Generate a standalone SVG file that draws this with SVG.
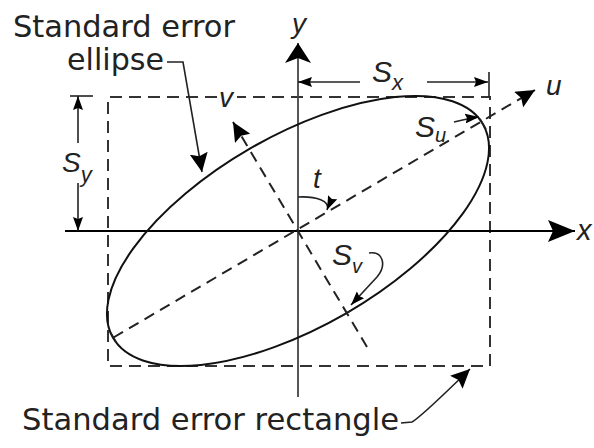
<svg xmlns="http://www.w3.org/2000/svg" width="594" height="448" viewBox="0 0 594 448">
<style>
.lbl{font-family:"DejaVu Sans","Liberation Sans",sans-serif;font-size:30px;fill:#222}
.m{font-family:"Liberation Sans","DejaVu Sans",sans-serif;font-style:italic;fill:#222}
.dash{fill:none;stroke:#333;stroke-width:2;stroke-dasharray:12 7}
.dl{fill:none;stroke:#222;stroke-width:2;stroke-dasharray:11 7}
.ln{fill:none;stroke:#111;stroke-width:2}
.thin{fill:none;stroke:#222;stroke-width:1.6}
</style>
<defs>
<marker id="big" viewBox="0 0 27 22" refX="27" refY="11" markerWidth="27" markerHeight="22" markerUnits="userSpaceOnUse" orient="auto"><path d="M0,0 L27,11 L0,22 L5,11 Z" fill="#000"/></marker>
<marker id="yah" viewBox="0 0 20 26" refX="20" refY="13" markerWidth="20" markerHeight="26" markerUnits="userSpaceOnUse" orient="auto"><path d="M0,0 L20,13 L0,26 L5,13 Z" fill="#000"/></marker>
<marker id="mid" viewBox="0 0 19 18" refX="19" refY="9" markerWidth="19" markerHeight="18" markerUnits="userSpaceOnUse" orient="auto"><path d="M0,0 L19,9 L0,18 L3,9 Z" fill="#000"/></marker>
<marker id="sm" viewBox="0 0 14 10" refX="14" refY="5" markerWidth="14" markerHeight="10" markerUnits="userSpaceOnUse" orient="auto"><path d="M0,0 L14,5 L0,10 L2,5 Z" fill="#000"/></marker>
</defs>

<g id="rectangle">
<path class="dash" d="M217,97 L108,97 L108,366 L490,366 L490,97 L237,97"/>
</g>

<g id="axes">
<line x1="298" y1="397" x2="298" y2="43" stroke="#444" stroke-width="1.8" marker-end="url(#yah)"/>
<line x1="65" y1="231" x2="575" y2="231" stroke="#000" stroke-width="2" marker-end="url(#big)"/>
<text class="m" x="292" y="33" font-size="28">y</text>
<text class="m" x="577" y="240" font-size="29">x</text>
</g>

<g id="ellipse">
<ellipse cx="298" cy="231" rx="213.6" ry="95.4" transform="rotate(-30 298 231)" class="ln"/>
</g>

<g id="connectors">
<line class="dl" x1="113.5" y1="337.5" x2="535" y2="90" marker-end="url(#mid)"/>
<line class="dl" x1="367" y1="347" x2="233" y2="122" marker-end="url(#mid)"/>
<line class="thin" x1="110.5" y1="332.3" x2="116.5" y2="342.7"/>
<line class="thin" x1="480" y1="118.8" x2="486" y2="129.2"/>
<line class="thin" x1="340.5" y1="316.6" x2="350.9" y2="310.6"/>
<path class="thin" d="M298,197 C316,196 331,201 327,210" marker-end="url(#sm)"/>
<path class="thin" d="M369,253 C383,251 387,265 377,277 L351,305" marker-end="url(#sm)"/>
<path class="thin" d="M454,122 C462,120 470,118 479,117" marker-end="url(#sm)"/>
<path class="thin" d="M167,62 L183,62 L202,172" marker-end="url(#mid)"/>
<path class="thin" d="M401,423 L412,422 C422,416 442,396 470,369" marker-end="url(#mid)"/>
<line class="thin" x1="360" y1="82" x2="298" y2="82" marker-end="url(#sm)"/>
<line class="thin" x1="427" y1="82" x2="488" y2="82" marker-end="url(#sm)"/>
<line class="thin" x1="489" y1="72" x2="489" y2="97"/>
<line class="thin" x1="70" y1="96" x2="93" y2="96"/>
<line class="thin" x1="78" y1="143" x2="78" y2="96" marker-end="url(#sm)"/>
<line class="thin" x1="78" y1="183" x2="78" y2="231" marker-end="url(#sm)"/>
</g>

<g id="labels">
<text class="m" x="546" y="95" font-size="28">u</text>
<text class="m" x="219" y="107" font-size="28">v</text>
<text class="m" x="313" y="188" font-size="28">t</text>
<text class="m" x="372" y="82" font-size="30">S<tspan font-size="22" dy="8">x</tspan></text>
<text class="m" x="62" y="172" font-size="28">S<tspan font-size="22" dy="10">y</tspan></text>
<text class="m" x="415" y="137" font-size="30">S<tspan font-size="20" dy="5">u</tspan></text>
<text class="m" x="332" y="265" font-size="30">S<tspan font-size="20" dy="8">v</tspan></text>
</g>

<g id="titles">
<text class="lbl" x="13" y="37" textLength="222" lengthAdjust="spacingAndGlyphs">Standard error</text>
<text class="lbl" x="67" y="70" textLength="97" lengthAdjust="spacingAndGlyphs">ellipse</text>
<text class="lbl" x="22" y="430" textLength="377" lengthAdjust="spacingAndGlyphs">Standard error rectangle</text>
</g>
</svg>
